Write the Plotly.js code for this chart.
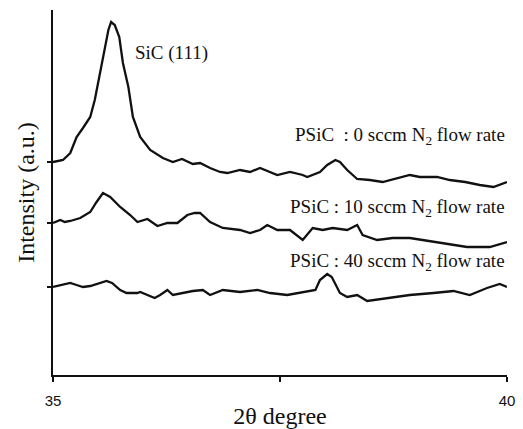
<!DOCTYPE html>
<html>
<head>
<meta charset="utf-8">
<script src="https://cdn.plot.ly/plotly-3.0.1.min.js"></script>
<style>html,body{margin:0;padding:0;background:#fff;}#chart{width:523px;height:429px;}</style>
</head>
<body>
<div id="chart"></div>
<script>
// 2θ (degree) and intensity (a.u.)
const x0 = [35.00,35.11,35.19,35.26,35.33,35.41,35.46,35.52,35.57,35.61,35.64,35.68,35.73,35.77,35.83,35.88,35.96,36.07,36.21,36.32,36.42,36.54,36.62,36.73,36.84,36.92,37.06,37.17,37.28,37.47,37.61,37.75,37.80,37.94,38.02,38.11,38.16,38.24,38.35,38.49,38.63,38.85,38.93,39.04,39.23,39.37,39.54,39.70,39.85,40.00];
const y0 = [213,215,222,238,247,258,275,302,328,345,353,350,338,312,288,258,238,225,217,213,216,211,212,207,203,202,205,203,207,200,203,200,198,203,210,215,213,205,196,195,193,198,200,198,198,195,193,190,188,193];

const x10 = [35.00,35.08,35.13,35.19,35.30,35.41,35.48,35.55,35.63,35.74,35.85,35.93,36.04,36.15,36.26,36.37,36.48,36.56,36.62,36.73,36.87,37.06,37.17,37.28,37.36,37.47,37.61,37.75,37.86,37.97,38.08,38.24,38.35,38.41,38.57,38.74,38.93,39.07,39.30,39.56,39.81,40.00];
const y10 = [152,155,153,154,157,163,173,182,178,168,160,153,156,149,152,152,160,162,162,153,147,145,142,145,150,145,145,135,147,145,147,145,150,140,135,137,137,135,132,128,128,133];

const x40 = [35.00,35.11,35.19,35.26,35.33,35.41,35.52,35.59,35.65,35.74,35.81,35.93,35.96,36.04,36.12,36.18,36.26,36.32,36.43,36.54,36.65,36.73,36.87,37.06,37.25,37.39,37.58,37.75,37.89,37.94,38.02,38.07,38.16,38.24,38.35,38.46,38.68,38.93,39.19,39.41,39.59,39.78,39.92,40.00];
const y40 = [88,90,92,90,88,89,92,94,92,85,82,82,83,80,77,80,85,80,82,84,85,80,85,83,85,82,80,83,85,95,101,98,82,78,80,74,77,80,82,84,80,87,91,88];

const seriesNames = ["PSiC\u00a0\u00a0: 0 sccm N<sub>2</sub> flow rate","PSiC : 10 sccm N<sub>2</sub> flow rate","PSiC : 40 sccm N<sub>2</sub> flow rate"];
const xTickVals = [35, 37.5, 40];
const xTickText = ["35", " ", "40"];
const yTickVals = [213, 152, 88];

const mk = (x, y) => ({x: x, y: y, type: 'scatter', mode: 'lines', line: {color: '#111', width: 2.3}, hoverinfo: 'none'});
const data = [mk(x0, y0), mk(x10, y10), mk(x40, y40)];

const serif = 'Liberation Serif, Times New Roman, serif';
const layout = {
  width: 523, height: 429,
  margin: {l: 53, r: 16, t: 10, b: 54},
  paper_bgcolor: '#fff', plot_bgcolor: '#fff',
  showlegend: false,
  xaxis: {
    range: [35, 40], showgrid: false, zeroline: false,
    showline: true, linecolor: '#111', linewidth: 2,
    tickmode: 'array', tickvals: xTickVals, ticktext: xTickText,
    ticks: 'outside', ticklen: 5, tickwidth: 1.5, tickcolor: '#111',
    ticklabelstandoff: 6,
    tickfont: {family: 'Liberation Sans, Arial, sans-serif', size: 15, color: '#111'},
    title: {text: '2θ degree', font: {family: serif, size: 24, color: '#111'}, standoff: 2}
  },
  yaxis: {
    range: [0, 365], showgrid: false, zeroline: false,
    showline: true, linecolor: '#111', linewidth: 2,
    tickmode: 'array', tickvals: yTickVals, showticklabels: false,
    ticks: 'outside', ticklen: 4, tickwidth: 1.5, tickcolor: '#111',
    title: {text: 'Intensity (a.u.)', font: {family: serif, size: 24, color: '#111'}, standoff: 6}
  },
  annotations: [
    {x: 35.88, y: 322, xref: 'x', yref: 'y', xanchor: 'left', yanchor: 'middle', showarrow: false,
     text: 'SiC (111)', font: {family: serif, size: 19, color: '#111'}},
    {x: 40, y: 239, xref: 'x', yref: 'y', xanchor: 'right', yanchor: 'middle', showarrow: false,
     text: seriesNames[0], font: {family: serif, size: 19, color: '#111'}},
    {x: 40, y: 167, xref: 'x', yref: 'y', xanchor: 'right', yanchor: 'middle', showarrow: false,
     text: seriesNames[1], font: {family: serif, size: 19, color: '#111'}},
    {x: 40, y: 113, xref: 'x', yref: 'y', xanchor: 'right', yanchor: 'middle', showarrow: false,
     text: seriesNames[2], font: {family: serif, size: 19, color: '#111'}}
  ]
};
Plotly.newPlot('chart', data, layout, {staticPlot: true, displayModeBar: false});
</script>
</body>
</html>
